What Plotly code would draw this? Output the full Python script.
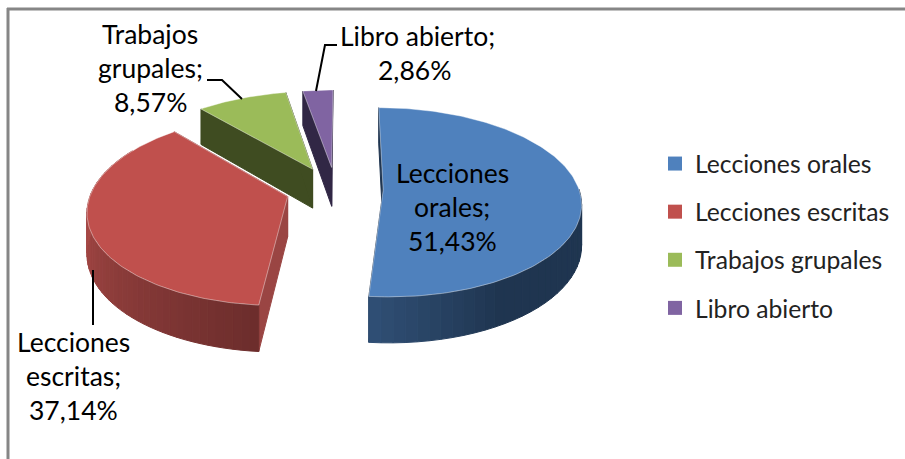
import math
import plotly.graph_objects as go

# ---- data ----
categories = ["Lecciones orales", "Lecciones escritas", "Trabajos grupales", "Libro abierto"]
percentages = [51.43, 37.14, 8.57, 2.86]

# ---- styles / projection ----
W, H = 905, 459
top_colors = ["#4f81bd", "#c0504d", "#9bbb59", "#8064a2"]
wall_colors = ["#1f3550", "#9a4543", "#3f4c21", "#312745"]
rim_from = [(0x1f, 0x35, 0x50), (0xa8, 0x49, 0x46), (0x3f, 0x4c, 0x21), (0x31, 0x27, 0x45)]
rim_to = [(0x30, 0x4f, 0x75), (0x6c, 0x2d, 0x2c), (0x3f, 0x4c, 0x21), (0x31, 0x27, 0x45)]
offsets = [(0.20, 0.0), (-0.285, -0.07), (-0.165, 0.23), (-0.065, 0.25)]
XC, YC, FX, FY, K, DEPTH = 344, 190, 196, 93, 0.13, 40
draw_order = [3, 2, 0, 1]
FONT = "Lato"
FS = 26.5


def project(idx, deg, radius=1.0):
    t = math.radians(deg)
    X = offsets[idx][0] + radius * math.sin(t)
    Z = offsets[idx][1] + radius * math.cos(t)
    den = 1 + K * Z
    return XC + FX * X / den, YC - FY * Z / den, DEPTH / den


def mix(a, b, f):
    return "rgb(%d,%d,%d)" % tuple(round(a[i] + (b[i] - a[i]) * f) for i in range(3))


total = sum(percentages)
bounds = [0.0]
for p in percentages:
    bounds.append(bounds[-1] + 360.0 * p / total)

fig = go.Figure()


def poly(xs, ys, color, line=None):
    fig.add_trace(go.Scatter(
        x=xs + xs[:1], y=ys + ys[:1], mode="lines", fill="toself", fillcolor=color,
        line=dict(color=line or color, width=1), hoverinfo="skip", showlegend=False))


for i in draw_order:
    a0, a1 = bounds[i], bounds[i + 1]
    ax, ay, ad = project(i, 0, 0.0)
    # straight cut walls
    for ang in (a0, a1):
        px, py, pd = project(i, ang)
        poly([ax, px, px, ax], [ay, py, py + pd, ay + ad], wall_colors[i])
    # outer rim, split into bands for the gradient
    n = 60
    for j in range(n):
        u0 = a0 + (a1 - a0) * j / n
        u1 = a0 + (a1 - a0) * (j + 1) / n
        mid = (u0 + u1) / 2
        if not 90 <= mid <= 300:
            continue
        f = max(0.0, (mid - 150) / 35) if i == 0 else (270 - min(mid, 270)) / 85
        f = max(0.0, min(1.0, f))
        col = mix(rim_from[i], rim_to[i], f)
        x0, y0, d0 = project(i, u0)
        x1, y1, d1 = project(i, u1)
        poly([x0, x1, x1, x0], [y0, y1, y1 + d1, y0 + d0], col)
    # top face
    xs, ys = [ax], [ay]
    steps = max(8, int(a1 - a0))
    for j in range(steps + 1):
        px, py, _ = project(i, a0 + (a1 - a0) * j / steps)
        xs.append(px)
        ys.append(py)
    poly(xs, ys, top_colors[i], "rgba(255,255,255,0.4)")

# leader lines
leaders = [
    ([207, 222, 242], [80, 80, 99]),
    ([337, 325, 316], [45, 45, 91]),
    ([93, 93], [270, 325]),
]
for lx, ly in leaders:
    fig.add_trace(go.Scatter(x=lx, y=ly, mode="lines", line=dict(color="#000000", width=2),
                             hoverinfo="skip", showlegend=False))

# legend entries
for i, name in enumerate(categories):
    fig.add_trace(go.Scatter(
        x=[None], y=[None], mode="markers", name=name, legendgroup=name,
        marker=dict(symbol="square", size=14, color=top_colors[i]), hoverinfo="skip"))


def pct(v):
    return f"{v:.2f}".replace(".", ",") + "%"


label_lines = [
    [("Lecciones", 452, 173), ("orales;", 452, 207), (pct(percentages[0]), 452, 241)],
    [("Lecciones", 73, 342), ("escritas;", 73, 376), (pct(percentages[1]), 73, 410)],
    [("Trabajos", 150, 34), ("grupales;", 150, 68), (pct(percentages[2]), 150, 102)],
    [("Libro abierto;", 417, 36), (pct(percentages[3]), 414, 70)],
]
annotations = []
for group in label_lines:
    for text, x, y in group:
        annotations.append(dict(x=x, y=y, xref="x", yref="y", text=text, showarrow=False,
                                xanchor="center", yanchor="middle",
                                font=dict(family=FONT, size=FS, color="#000000")))

shapes = [
    dict(type="line", xref="x", yref="y", x0=8, x1=8, y0=8, y1=H, line=dict(color="#868686", width=3)),
    dict(type="line", xref="x", yref="y", x0=7, x1=W, y0=9, y1=9, line=dict(color="#868686", width=3)),
]

fig.update_layout(
    width=W, height=H, margin=dict(l=0, r=0, t=0, b=0),
    paper_bgcolor="#ffffff", plot_bgcolor="#ffffff",
    xaxis=dict(range=[0, W], visible=False, fixedrange=True),
    yaxis=dict(range=[H, 0], visible=False, fixedrange=True),
    annotations=annotations, shapes=shapes,
    legend=dict(x=655 / W, y=1 - 141 / H, xanchor="left", yanchor="top", tracegroupgap=13,
                font=dict(family=FONT, size=24.7, color="#222222"),
                bgcolor="rgba(0,0,0,0)", itemwidth=30),
)
fig.write_html("out.html", post_script="document.body.style.margin='0';",
               config={"displayModeBar": False})
